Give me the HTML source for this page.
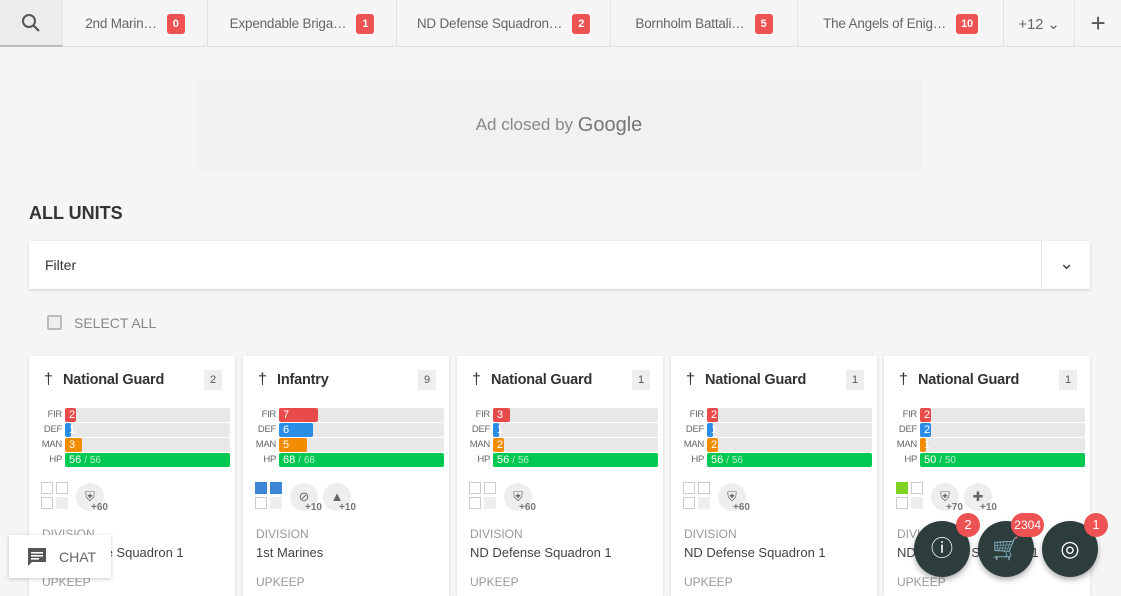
<!DOCTYPE html>
<html><head><meta charset="utf-8"><style>
*{box-sizing:border-box;margin:0;padding:0}
body{width:1121px;height:587px;overflow:hidden;background:#f5f5f5;font-family:"Liberation Sans",sans-serif;position:relative;color:#333}
.abs{position:absolute}
#tabs{left:0;top:0;width:1121px;height:47px;border-bottom:1px solid #e0e0e0;background:#f5f5f5}
.tab{position:absolute;top:0;height:47px;border-right:1px solid #e3e3e3;font-size:13.5px;color:#666;display:flex;align-items:center;justify-content:center;gap:10px;letter-spacing:-0.2px}
.tb{background:#ee5253;color:#fff;font-size:11px;font-weight:bold;border-radius:3px;padding:4px 5px;min-width:18px;text-align:center}
.card{position:absolute;top:356px;width:206px;height:240px;background:#fff;box-shadow:0 1px 3px rgba(0,0,0,.12)}
.title{position:absolute;left:34px;top:16px;font-size:14.5px;font-weight:bold;color:#333;letter-spacing:-0.2px}
.cnt{position:absolute;left:175px;top:14px;width:18px;height:20px;background:#eee;font-size:11px;color:#555;text-align:center;line-height:20px}
.lbl{position:absolute;width:33px;text-align:right;font-size:9.5px;color:#666;left:0;letter-spacing:-0.3px}
.bar{position:absolute;left:36px;width:165px;height:14px;background:#e8e8e8;border-radius:2px}
.fill{position:absolute;left:0;top:0;height:14px;border-radius:2px;color:#fff;font-size:11px;line-height:14px;padding-left:4px;white-space:nowrap;overflow:visible}
.sq{position:absolute;width:12px;height:12px;border:1px solid #ccc;background:#fff}
.circ{position:absolute;width:28px;height:28px;border-radius:50%;background:#eee;font-size:13px;color:#666;text-align:center;line-height:28px}
.plus{position:absolute;font-size:10px;color:#777;font-weight:bold}
.sm{position:absolute;left:13px;font-size:12px;color:#999}
.val{position:absolute;left:13px;font-size:13px;color:#444}
.fab{position:absolute;top:521px;width:56px;height:56px;border-radius:50%;background:#2c3d3c;box-shadow:0 3px 6px rgba(0,0,0,.3);color:#fff;font-size:22px;text-align:center;line-height:56px}
.fb{position:absolute;top:-8px;right:-10px;min-width:24px;height:24px;border-radius:12px;background:#ee5253;color:#fff;font-size:13px;line-height:24px;padding:0 3px}
</style></head><body>
<div id="tabs" class="abs">
 <div class="tab" style="left:0;width:63px;background:#ececec;border-bottom:2px solid #bbb"><svg width="20" height="20" viewBox="0 0 20 20"><circle cx="8" cy="8" r="6" fill="none" stroke="#555" stroke-width="2"/><line x1="12.5" y1="12.5" x2="18" y2="18" stroke="#555" stroke-width="2.2"/></svg></div>
 <div class="tab" style="left:63px;width:145px">2nd Marin… <span class="tb">0</span></div>
 <div class="tab" style="left:208px;width:189px">Expendable Briga… <span class="tb">1</span></div>
 <div class="tab" style="left:397px;width:214px">ND Defense Squadron… <span class="tb">2</span></div>
 <div class="tab" style="left:611px;width:187px">Bornholm Battali… <span class="tb">5</span></div>
 <div class="tab" style="left:798px;width:206px">The Angels of Enig… <span class="tb">10</span></div>
 <div class="tab" style="left:1004px;width:71px;font-size:15px">+12 ⌄</div>
 <div class="tab" style="left:1075px;width:46px;border-right:none;font-size:26px;color:#555">+</div>
</div>
<div class="abs" style="left:196px;top:80px;width:726px;height:90px;background:#f1f1f1;display:flex;align-items:center;justify-content:center;font-size:17px;color:#888">Ad closed by&nbsp;<span style="font-size:20px;color:#777">Google</span></div>
<div class="abs" style="left:29px;top:203px;font-size:18px;font-weight:bold;color:#333">ALL UNITS</div>
<div class="abs" style="left:29px;top:241px;width:1061px;height:48px;background:#fff;box-shadow:0 1px 3px rgba(0,0,0,.15)">
 <div class="abs" style="left:16px;top:16px;font-size:14px;color:#333">Filter</div>
 <div class="abs" style="left:1012px;top:0;width:1px;height:48px;background:#e5e5e5"></div>
 <div class="abs" style="left:1030px;top:12px;font-size:18px;color:#444">⌄</div>
</div>
<div class="abs" style="left:47px;top:315px;width:15px;height:15px;border:2px solid #bbb;background:#eee;border-radius:2px"></div>
<div class="abs" style="left:74px;top:315px;font-size:14px;color:#888">SELECT ALL</div>
<div id="cards"></div>
<div class="abs" style="left:9px;top:535px;width:102px;height:43px;background:#fff;box-shadow:0 1px 4px rgba(0,0,0,.2);z-index:5">
 <svg class="abs" style="left:17px;top:11px" width="22" height="22" viewBox="0 0 22 22"><path d="M2 2h18v14H6l-4 4z" fill="#555"/><rect x="5" y="6" width="12" height="1.6" fill="#fff"/><rect x="5" y="9" width="12" height="1.6" fill="#fff"/><rect x="5" y="12" width="8" height="1.6" fill="#fff"/></svg>
 <div class="abs" style="left:50px;top:14px;font-size:14px;color:#666">CHAT</div>
</div>
<div class="fab" style="left:914px">ⓘ<div class="fb">2</div></div>
<div class="fab" style="left:978px">🛒<div class="fb" style="font-size:12px">2304</div></div>
<div class="fab" style="left:1042px">◎<div class="fb">1</div></div>
<script>
const names=["National Guard","Infantry","National Guard","National Guard","National Guard"];
const counts=[2,9,1,1,1];
const fir=[2,7,3,2,2];
const def=[1,6,1,1,2];
const man=[3,5,2,2,1];
const hp=[56,68,56,56,50];
const divisions=["ND Defense Squadron 1","1st Marines","ND Defense Squadron 1","ND Defense Squadron 1","ND Defense Squadron 1"];
const lefts=[29,243,457,671,884];
const stat=v=>Math.max(5,v*5.6);
const root=document.getElementById('cards');
names.forEach((n,i)=>{
 const c=document.createElement('div');
 c.className='card';c.style.left=lefts[i]+'px';
 
 
 const rows=[['FIR',fir[i],'#e94b4b'],['DEF',def[i],'#2b8ee6'],['MAN',man[i],'#f28c00']];
 let h=`<div class="abs" style="left:15px;top:15px;font-size:16px;color:#333">†</div><div class="title">${n}</div><div class="cnt">${counts[i]}</div>`;
 rows.forEach((r,k)=>{const y=52+k*15;h+=`<div class="lbl" style="top:${y+1}px">${r[0]}</div><div class="bar" style="top:${y}px"><div class="fill" style="width:${stat(r[1])}px;background:${r[2]}">${r[1]}</div></div>`;});
 h+=`<div class="lbl" style="top:98px">HP</div><div class="bar" style="top:97px"><div class="fill" style="width:165px;background:#00c853">${hp[i]} <span style="opacity:.7;font-size:10px">/ ${hp[i]}</span></div></div>`;
 h+=`<div class="sq" style="left:12px;top:126px;${i==1?'background:#3b86d6;border-color:#3b86d6':i==4?'background:#7ed321;border-color:#7ed321':''}"></div><div class="sq" style="left:27px;top:126px;${i==1?'background:#3b86d6;border-color:#3b86d6':''}"></div><div class="sq" style="left:12px;top:141px"></div><div class="sq" style="left:27px;top:141px;background:#eee;border-color:#eee"></div>`;
 h+=`<div class="circ" style="left:47px;top:127px">${i==1?'⊘':'⛨'}</div><div class="plus" style="left:62px;top:146px">+${i==1?10:i==4?70:60}</div>`;
 if(i==1||i==4)h+=`<div class="circ" style="left:80px;top:127px">${i==1?'▲':'✚'}</div><div class="plus" style="left:96px;top:146px">+10</div>`;
 h+=`<div class="sm" style="top:171px">DIVISION</div><div class="val" style="top:189px">${divisions[i]}</div><div class="sm" style="top:219px">UPKEEP</div>`;
 c.innerHTML=h;root.appendChild(c);
});
</script>
</body></html>
